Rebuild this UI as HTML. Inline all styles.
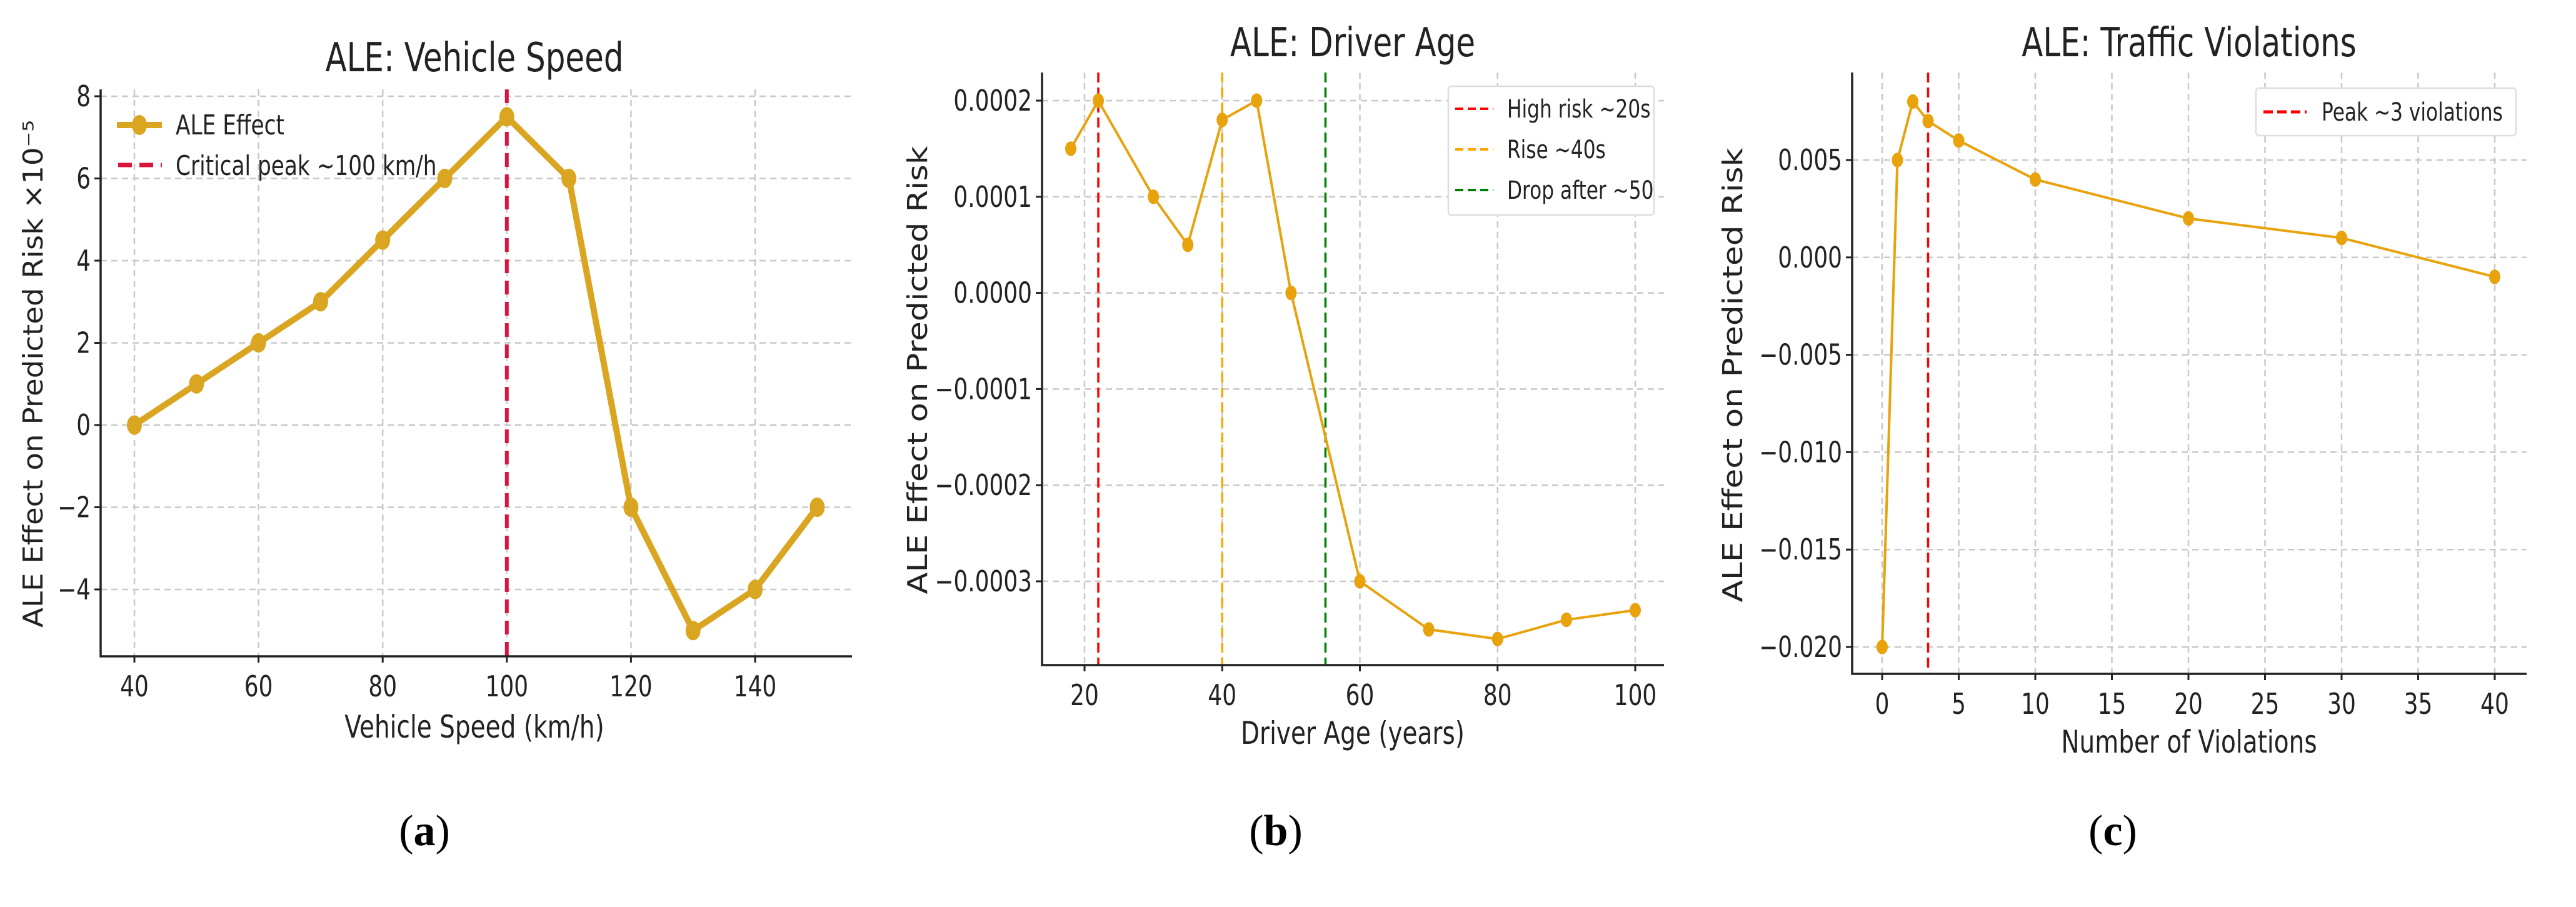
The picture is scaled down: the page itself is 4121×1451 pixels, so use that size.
<!DOCTYPE html>
<html><head><meta charset="utf-8"><style>
html,body{margin:0;padding:0;background:#fff;}
svg{display:block;}
text{font-family:"DejaVu Sans","Liberation Sans",sans-serif;fill:#222;}
.cap{font-family:"Liberation Serif",serif;fill:#000;}
</style></head><body>
<svg id="fig" width="4121" height="1451" viewBox="0 0 4121 1451" xmlns="http://www.w3.org/2000/svg"></svg>
<script>
// Panel A: Vehicle Speed
const speedX = [40,50,60,70,80,90,100,110,120,130,140,150];
const speedY = [0,1,2,3,4.5,6,7.5,6,-2,-5,-4,-2];
const speedXTicks = [40,60,80,100,120,140];
const speedYTicks = [-4,-2,0,2,4,6,8];
const speedYLabels = ["\u22124","\u22122","0","2","4","6","8"];
// Panel B: Driver Age
const ageX = [18,22,30,35,40,45,50,60,70,80,90,100];
const ageY = [0.00015,0.0002,0.0001,0.00005,0.00018,0.0002,0,-0.0003,-0.00035,-0.00036,-0.00034,-0.00033];
const ageXTicks = [20,40,60,80,100];
const ageYTicks = [-0.0003,-0.0002,-0.0001,0,0.0001,0.0002];
const ageYLabels = ["\u22120.0003","\u22120.0002","\u22120.0001","0.0000","0.0001","0.0002"];
const ageVlines = [22,40,55];
// Panel C: Traffic Violations
const violX = [0,1,2,3,5,10,20,30,40];
const violY = [-0.02,0.005,0.008,0.007,0.006,0.004,0.002,0.001,-0.001];
const violXTicks = [0,5,10,15,20,25,30,35,40];
const violYTicks = [-0.02,-0.015,-0.01,-0.005,0,0.005];
const violYLabels = ["\u22120.020","\u22120.015","\u22120.010","\u22120.005","0.000","0.005"];
const violVlines = [3];

const NS="http://www.w3.org/2000/svg";
const svg=document.getElementById('fig');
function mk(tag,attrs,parent,txt){const e=document.createElementNS(NS,tag);for(const k in attrs)e.setAttribute(k,attrs[k]);if(txt!==undefined)e.textContent=txt;(parent||svg).appendChild(e);return e;}

function panel(p){
  const g=mk('g',{});
  
  
  const sx=v=>p.x0px+(v-p.x0)*(p.x1px-p.x0px)/(p.x1-p.x0);
  const sy=v=>p.y0px+(v-p.y0)*(p.y1px-p.y0px)/(p.y1-p.y0);
  p.xt.forEach(t=>{const l=mk('line',{x1:sx(t),x2:sx(t),y1:p.top,y2:p.bottom,stroke:'#c8c8c8','stroke-width':2.5,'stroke-dasharray':'10,7'},g);
    });
  p.yt.forEach(t=>{const l=mk('line',{x1:p.left,x2:p.right,y1:sy(t),y2:sy(t),stroke:'#c8c8c8','stroke-width':2.5,'stroke-dasharray':'10,7'},g);
    });
  p.vl.forEach((v,i)=>{const l=mk('line',{x1:sx(v),x2:sx(v),y1:p.top,y2:p.bottom,stroke:p.vc[i],'stroke-width':p.vw,'stroke-dasharray':p.vd},g);
    });
  const pts=p.xs.map((x,i)=>sx(x)+','+sy(p.ys[i])).join(' ');
  const pl=mk('polyline',{points:pts,fill:'none',stroke:p.lc,'stroke-width':p.lw,'stroke-linejoin':'round'},g);
  
  p.xs.forEach((x,i)=>{const c=mk('ellipse',{cx:sx(x),cy:sy(p.ys[i]),rx:p.mr,ry:p.mr*1.3,fill:p.lc},g);
    });
  const ax=mk('path',{d:`M${p.left},${p.top} V${p.bottom} H${p.right}`,fill:'none',stroke:'#222','stroke-width':3.5},g);
  
  p.xt.forEach(t=>{mk('line',{x1:sx(t),x2:sx(t),y1:p.bottom,y2:p.bottom+10,stroke:'#222','stroke-width':3},g);
    const tx=mk('text',{x:sx(t),y:p.bottom+64,'font-size':46,'text-anchor':'middle',class:'cond'},g,String(t));
    });
  p.yt.forEach((t,i)=>{mk('line',{x1:p.left-10,x2:p.left,y1:sy(t),y2:sy(t),stroke:'#222','stroke-width':3},g);
    const tx=mk('text',{x:p.left-16,y:sy(t)+16,'font-size':46,'text-anchor':'end',class:'cond'},g,p.yl[i]);
    });
  const ti=mk('text',{x:p.tx,y:p.ty,'font-size':64,'text-anchor':'middle',class:'cond'},g,p.title);
  
  const xl=mk('text',{x:p.xlx,y:p.xly,'font-size':50,'text-anchor':'middle',class:'cond'},g,p.xlabel);
  
  const yl=mk('text',{x:0,y:0,'font-size':44,'text-anchor':'middle',transform:`translate(${p.ylx},${p.yly}) rotate(-90)`,textLength:p.yll,lengthAdjust:'spacingAndGlyphs'},g,p.ylabel);
  
  const cp=mk('text',{x:p.capx,y:1352,'font-size':70,'text-anchor':'middle',class:'cap'},g);
  
  mk('tspan',{},cp,'(');mk('tspan',{'font-weight':'bold'},cp,p.cap);mk('tspan',{},cp,')');
  return {g,sx,sy};
}

panel({name:'panel-a-vehicle-speed',xs:speedX,ys:speedY,xt:speedXTicks,yt:speedYTicks,yl:speedYLabels,
  x0:40,x1:140,x0px:215,x1px:1208,y0:0,y1:8,y0px:680,y1px:154,left:161,right:1363,top:143,bottom:1050,
  vl:[100],vc:['#DC143C'],vw:6,vd:'22,12',lc:'#DAA520',lw:10,mr:12,
  title:'ALE: Vehicle Speed',tx:759,ty:114,xlabel:'Vehicle Speed (km/h)',xlx:759,xly:1180,
  ylabel:'ALE Effect on Predicted Risk \u00d710\u207b\u2075',ylx:68,yly:598,yll:812,capx:679,cap:'a'});
(function(){const g=mk('g',{});
  mk('line',{x1:187,x2:259,y1:200,y2:200,stroke:'#DAA520','stroke-width':10},g);
  mk('ellipse',{cx:223,cy:200,rx:12,ry:16,fill:'#DAA520'},g);
  const t1=mk('text',{x:281,y:215,'font-size':44,class:'cond'},g,'ALE Effect');
  mk('line',{x1:189,x2:259,y1:264,y2:264,stroke:'#DC143C','stroke-width':7,'stroke-dasharray':'22,12'},g);
  const t2=mk('text',{x:281,y:280,'font-size':44,class:'cond'},g,'Critical peak ~100 km/h');
})();

panel({name:'panel-b-driver-age',xs:ageX,ys:ageY,xt:ageXTicks,yt:ageYTicks,yl:ageYLabels,
  x0:20,x1:100,x0px:1735,x1px:2616,y0:0.0002,y1:-0.0003,y0px:161,y1px:930,left:1667,right:2662,top:116,bottom:1064,
  vl:ageVlines,vc:['#ff0000','#FFA500','#008000'],vw:3.5,vd:'16,8',lc:'#E8A20C',lw:4,mr:9,
  title:'ALE: Driver Age',tx:2164,ty:90,xlabel:'Driver Age (years)',xlx:2164,xly:1190,
  ylabel:'ALE Effect on Predicted Risk',ylx:1483,yly:592,yll:717,capx:2041,cap:'b'});
(function(){const g=mk('g',{});
  mk('rect',{x:2317,y:138,width:329,height:206,rx:5,fill:'#fff',stroke:'#ddd','stroke-width':2.5},g);
  const items=[['#ff0000','High risk ~20s',174],['#FFA500','Rise ~40s',239],['#008000','Drop after ~50',304]];
  items.forEach(it=>{mk('line',{x1:2328,x2:2389,y1:it[2],y2:it[2],stroke:it[0],'stroke-width':4,'stroke-dasharray':'13,7'},g);
    const t=mk('text',{x:2411,y:it[2]+14,'font-size':40,class:'cond'},g,it[1]);});
})();

panel({name:'panel-c-traffic-violations',xs:violX,ys:violY,xt:violXTicks,yt:violYTicks,yl:violYLabels,
  x0:0,x1:40,x0px:3011,x1px:3991,y0:0.005,y1:-0.02,y0px:256,y1px:1035,left:2963,right:4042,top:116,bottom:1078,
  vl:violVlines,vc:['#ff0000'],vw:3.5,vd:'16,8',lc:'#E8A20C',lw:4,mr:9,
  title:'ALE: Traffic Violations',tx:3502,ty:90,xlabel:'Number of Violations',xlx:3502,xly:1204,
  ylabel:'ALE Effect on Predicted Risk',ylx:2787,yly:600,yll:727,capx:3380,cap:'c'});
(function(){const g=mk('g',{});
  mk('rect',{x:3609,y:141,width:416,height:76,rx:5,fill:'#fff',stroke:'#ddd','stroke-width':2.5},g);
  mk('line',{x1:3621,x2:3690,y1:179,y2:179,stroke:'#ff0000','stroke-width':5,'stroke-dasharray':'15,7'},g);
  const t=mk('text',{x:3714,y:193,'font-size':40,class:'cond'},g,'Peak ~3 violations');
})();

// condense text horizontally to mimic the narrow rendering of the reference
document.querySelectorAll('text.cond').forEach(t=>{
  const w=t.getComputedTextLength();
  if(w>0){t.setAttribute('textLength',(w*0.78).toFixed(1));t.setAttribute('lengthAdjust','spacingAndGlyphs');}
});
</script>
</body></html>
